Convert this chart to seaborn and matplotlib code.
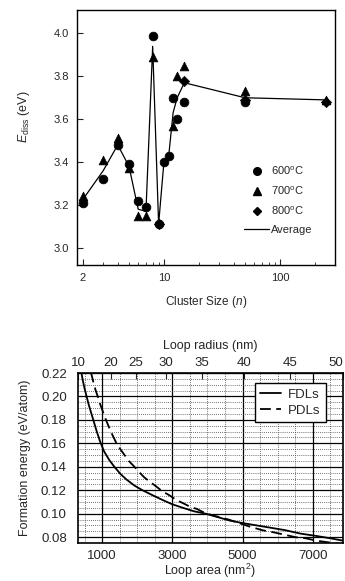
import numpy as np
import pandas as pd
import matplotlib
matplotlib.use("Agg")
import matplotlib.pyplot as plt
import seaborn as sns
from matplotlib.lines import Line2D
from matplotlib.ticker import FormatStrFormatter, MultipleLocator, LogLocator, NullFormatter

sns.set_style("ticks")
plt.rcParams['font.family'] = ['Liberation Sans', 'DejaVu Sans']
plt.rcParams['mathtext.fontset'] = 'custom'
plt.rcParams['mathtext.rm'] = 'Liberation Sans'
plt.rcParams['mathtext.it'] = 'Liberation Sans:italic'

# --- top panel data: dissociation energy vs cluster size
n_600 = [2, 3, 4, 5, 6, 7, 8, 9, 10, 11, 12, 13, 15, 50]
e_600 = [3.21, 3.32, 3.48, 3.39, 3.22, 3.19, 3.99, 3.11, 3.40, 3.43, 3.70, 3.60, 3.68, 3.68]
n_700 = [2, 3, 4, 5, 6, 7, 8, 12, 13, 15, 50, 250]
e_700 = [3.24, 3.41, 3.51, 3.37, 3.15, 3.15, 3.89, 3.57, 3.80, 3.85, 3.73, 3.69]
n_800 = [9, 15, 50, 250]
e_800 = [3.11, 3.78, 3.69, 3.68]
n_avg = [2, 3, 4, 5, 6, 7, 8, 9, 10, 11, 12, 13, 15, 50, 250]
e_avg = [3.225, 3.36, 3.48, 3.38, 3.18, 3.17, 3.94, 3.11, 3.40, 3.43, 3.63, 3.70, 3.77, 3.70, 3.69]

# --- bottom panel data: formation energy vs loop area
area_fdl = [400, 450, 500, 560, 620, 690, 760, 850, 950, 1060, 1200, 1350, 1520, 1700, 1920,
            2150, 2420, 2700, 3000, 3300, 3620, 3950, 4300, 4650, 5000, 5400, 5800, 6200,
            6650, 7100, 7500, 7854]
e_fdl = [0.222, 0.214, 0.207, 0.200, 0.193, 0.186, 0.179, 0.170, 0.161, 0.153, 0.146, 0.140,
         0.134, 0.129, 0.124, 0.120, 0.116, 0.112, 0.108, 0.105, 0.102, 0.100, 0.097, 0.094,
         0.092, 0.090, 0.088, 0.086, 0.083, 0.081, 0.079, 0.077]
area_pdl = [680, 730, 780, 830, 890, 950, 1000, 1060, 1110, 1180, 1250, 1330, 1410, 1520, 1640,
            1760, 1890, 2040, 2200, 2370, 2550, 2720, 2900, 3100, 3300, 3500, 3700, 3900,
            4100, 4350, 4600, 4900, 5200, 5550, 5900, 6200, 6500, 6800, 7100, 7450, 7854]
e_pdl = [0.221, 0.215, 0.209, 0.204, 0.199, 0.193, 0.189, 0.184, 0.180, 0.175, 0.170, 0.165,
         0.160, 0.155, 0.150, 0.145, 0.141, 0.136, 0.131, 0.127, 0.123, 0.119, 0.116, 0.112,
         0.109, 0.106, 0.104, 0.101, 0.099, 0.097, 0.095, 0.092, 0.089, 0.086, 0.084, 0.082,
         0.080, 0.079, 0.077, 0.0755, 0.074]
radius_ticks = [10, 20, 25, 30, 35, 40, 45, 50]
area_ticks = [1000, 3000, 5000, 7000]

fig = plt.figure(figsize=(3.45, 5.81), dpi=100)

# ---------------- top panel
ax1 = fig.add_axes([0.223, 0.544, 0.748, 0.439])
kw = dict(color='black', edgecolor='black', s=40, ax=ax1, legend=False, zorder=3)
sns.scatterplot(x=n_600, y=e_600, marker='o', **kw)
sns.scatterplot(x=n_700, y=e_700, marker='^', **kw)
sns.scatterplot(x=n_800, y=e_800, marker='D', **dict(kw, s=28))
sns.lineplot(x=n_avg, y=e_avg, color='black', lw=0.9, ax=ax1, zorder=2)
ax1.set_xscale('log')
ax1.set_xlim(1.78, 298)
ax1.set_ylim(2.92, 4.11)
ax1.set_xticks([2, 10, 100])
ax1.set_xticklabels(['2', '10', '100'])
ax1.xaxis.set_minor_locator(LogLocator(base=10, subs=np.arange(2, 10)))
ax1.xaxis.set_minor_formatter(NullFormatter())
ax1.yaxis.set_major_locator(MultipleLocator(0.2))
ax1.yaxis.set_major_formatter(FormatStrFormatter('%.1f'))
ax1.tick_params(direction='in', labelsize=8, length=4, width=0.8, pad=6)
ax1.tick_params(which='minor', direction='in', length=2, width=0.6)
ax1.set_xlabel('Cluster Size ($n$)', fontsize=8.5, labelpad=8)
ax1.set_ylabel(r'$E_{\rm diss}$ (eV)', fontsize=9)
ax1.yaxis.set_label_coords(-0.175, 0.58)
for s in ax1.spines.values():
    s.set_linewidth(1.0)
    s.set_color('black')

handles = [
    Line2D([], [], marker='o', color='black', ls='none', ms=5.5),
    Line2D([], [], marker='^', color='black', ls='none', ms=5.5),
    Line2D([], [], marker='D', color='black', ls='none', ms=4.5),
    Line2D([], [], color='black', lw=0.9),
]
ax1.legend(handles, ['600$^{\\rm o}$C', '700$^{\\rm o}$C', '800$^{\\rm o}$C', 'Average'],
           loc='lower right', bbox_to_anchor=(0.93, 0.1), frameon=False, fontsize=8,
           handlelength=2.2, handletextpad=0.2, labelspacing=0.7, borderaxespad=0)

# ---------------- bottom panel
ax2 = fig.add_axes([0.226, 0.0654, 0.768, 0.2926])
sns.lineplot(x=area_fdl, y=e_fdl, color='black', lw=1.3, ax=ax2, label='FDLs', zorder=3)
sns.lineplot(x=area_pdl, y=e_pdl, color='black', lw=1.3, ax=ax2, label='PDLs',
             linestyle=(0, (6, 3)), zorder=3)
ax2.set_xlim(np.pi * 10 ** 2, np.pi * 50 ** 2)
ax2.set_ylim(0.075, 0.22)
ax2.set_xticks(area_ticks)
ax2.xaxis.set_minor_locator(MultipleLocator(500))
ax2.yaxis.set_major_locator(MultipleLocator(0.02))
ax2.yaxis.set_minor_locator(MultipleLocator(0.005))
ax2.yaxis.set_major_formatter(FormatStrFormatter('%.2f'))
ax2.grid(which='major', color='black', lw=0.9, ls='-')
ax2.grid(which='minor', color='#444444', lw=0.6, ls=(0, (1, 1.5)))
ax2.tick_params(which='both', direction='in', length=0, labelsize=9.5)
ax2.tick_params(axis='y', pad=8)
ax2.tick_params(axis='x', pad=5)
ax2.set_xlabel('Loop area (nm$^2$)', fontsize=9, labelpad=0)
ax2.set_ylabel('Formation energy (eV/atom)', fontsize=9, labelpad=7)
for s in ax2.spines.values():
    s.set_linewidth(1.2)
    s.set_color('black')

sec = ax2.secondary_xaxis('top', functions=(lambda a: np.sqrt(np.clip(a, 0, None) / np.pi),
                                            lambda r: np.pi * np.asarray(r) ** 2))
sec.set_xticks(radius_ticks)
sec.set_xticklabels([str(r) for r in radius_ticks])
sec.tick_params(direction='in', length=4, width=0.8, labelsize=9.5, pad=3)
sec.get_xticklabels()[-1].set_horizontalalignment('right')
sec.set_xlabel('Loop radius (nm)', fontsize=9, labelpad=6)

leg = ax2.legend(loc='upper right', bbox_to_anchor=(0.935, 0.94), fontsize=9.5,
                 handlelength=1.6, handletextpad=0.5, labelspacing=0.3,
                 borderpad=0.4, borderaxespad=0, fancybox=False, framealpha=1)
leg.get_frame().set_edgecolor('black')
leg.get_frame().set_linewidth(1.0)

fig.savefig('out.png', dpi=100)
